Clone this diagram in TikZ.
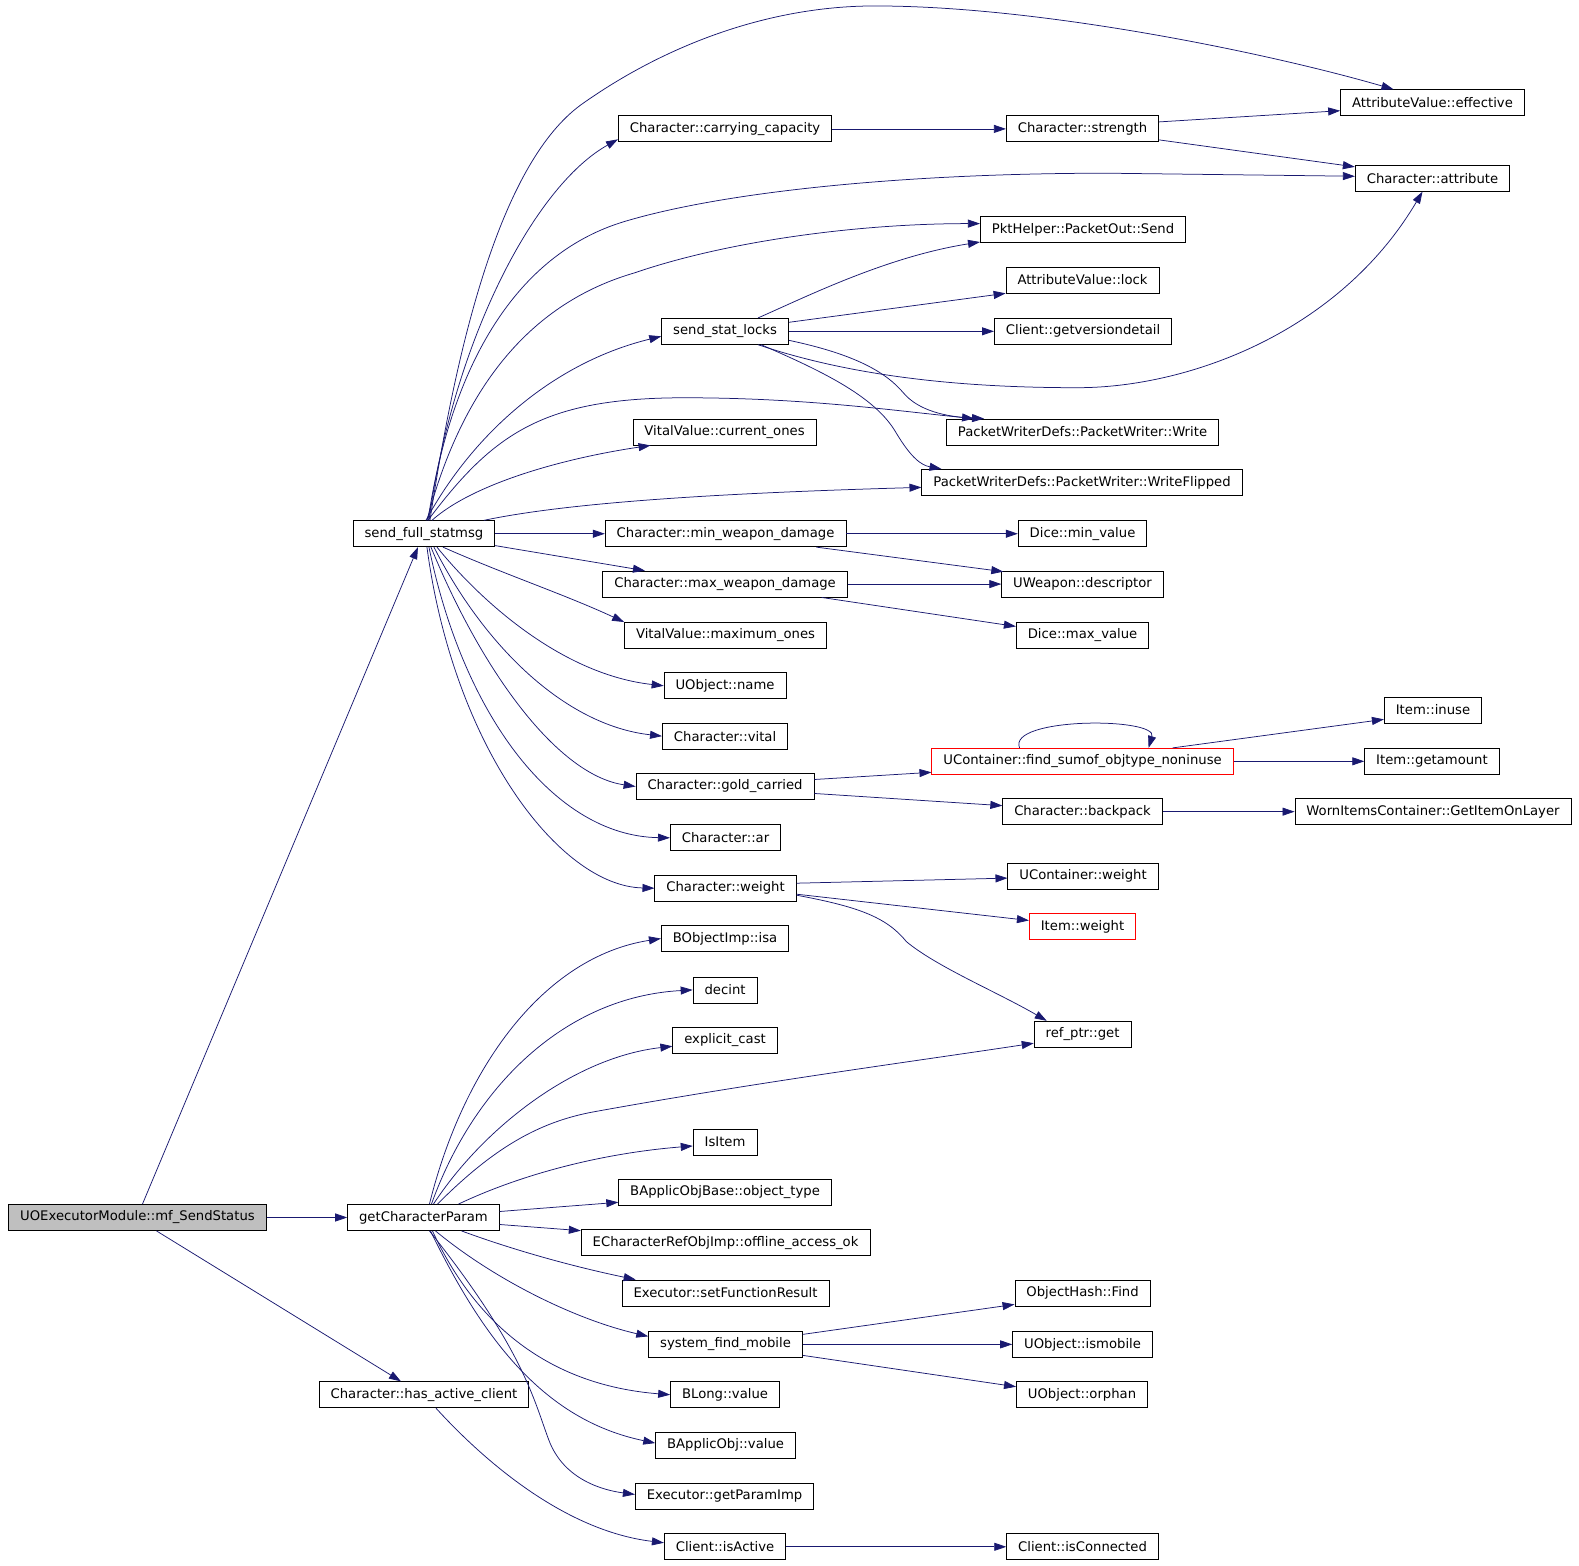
\documentclass[tikz,border=0pt]{standalone}
\usepackage{fontspec}
\setmainfont{DejaVu Sans}
\usepackage{xcolor}
\usepackage{tikz}
\usetikzlibrary{arrows.meta}
\definecolor{callblue}{RGB}{25,25,112}
\definecolor{rootgray}{RGB}{191,191,191}
\tikzset{
    fn_node/.style = {rectangle, draw=black, line width=0.8pt, fill=white, minimum height=26pt, inner xsep=11.5pt, inner ysep=0pt, font=\fontsize{13.2}{15}\selectfont},
    root_node/.style = {fn_node, fill=rootgray},
    trunc_node/.style = {fn_node, draw=red},
    call_edge/.style = {->, draw=callblue, line width=0.75pt}
}

\begin{document}
\begin{tikzpicture}
            [x=1.007pt, y=-1.007pt, >={Triangle[length=12pt,width=8pt]}]
            \useasboundingbox (0,0) rectangle (1568,1555);

            \node [root_node] (mf) at (136.5,1209) {UOExecutorModule::mf\_SendStatus};
            \node [fn_node] (sfs) at (421,530) {send\_full\_statmsg};
            \node [fn_node] (gcp) at (420.5,1209) {getCharacterParam};
            \node [fn_node] (hac) at (421,1385) {Character::has\_active\_client};

            \node [fn_node] (carry) at (720,128) {Character::carrying\_capacity};
            \node [fn_node] (ssl) at (720,329) {send\_stat\_locks};
            \node [fn_node] (curones) at (719.5,429) {VitalValue::current\_ones};
            \node [fn_node] (minwd) at (720.5,530) {Character::min\_weapon\_damage};
            \node [fn_node] (maxwd) at (720,580) {Character::max\_weapon\_damage};
            \node [fn_node] (maxones) at (720.5,631) {VitalValue::maximum\_ones};
            \node [fn_node] (oname) at (720,681) {UObject::name};
            \node [fn_node] (vital) at (720,731) {Character::vital};
            \node [fn_node] (gold) at (720,781) {Character::gold\_carried};
            \node [fn_node] (ar) at (720.5,832) {Character::ar};
            \node [fn_node] (weight) at (720.5,882) {Character::weight};
            \node [fn_node] (isa) at (720,932) {BObjectImp::isa};
            \node [fn_node] (decint) at (720,983) {decint};
            \node [fn_node] (ecast) at (720,1033) {explicit\_cast};
            \node [fn_node] (isitem) at (720,1134) {IsItem};
            \node [fn_node] (otype) at (720,1184) {BApplicObjBase::object\_type};
            \node [fn_node] (offline) at (720.5,1234) {ECharacterRefObjImp::offline\_access\_ok};
            \node [fn_node] (setres) at (720.5,1284) {Executor::setFunctionResult};
            \node [fn_node] (sfm) at (720.5,1335) {system\_find\_mobile};
            \node [fn_node] (blong) at (720,1385) {BLong::value};
            \node [fn_node] (bapp) at (720.5,1435) {BApplicObj::value};
            \node [fn_node] (gparam) at (719.5,1486) {Executor::getParamImp};
            \node [fn_node] (isactive) at (720,1536) {Client::isActive};

            \node [fn_node] (strength) at (1075,128) {Character::strength};
            \node [fn_node] (send) at (1075.5,228) {PktHelper::PacketOut::Send};
            \node [fn_node] (lock) at (1075,278) {AttributeValue::lock};
            \node [fn_node] (verdet) at (1075.5,329) {Client::getversiondetail};
            \node [fn_node] (write) at (1075,429) {PacketWriterDefs::PacketWriter::Write};
            \node [fn_node] (wflip) at (1074.5,479) {PacketWriterDefs::PacketWriter::WriteFlipped};
            \node [fn_node] (dmin) at (1075,530) {Dice::min\_value};
            \node [fn_node] (descr) at (1075,580) {UWeapon::descriptor};
            \node [fn_node] (dmax) at (1075,631) {Dice::max\_value};
            \node [trunc_node] (findsum) at (1075,756) {UContainer::find\_sumof\_objtype\_noninuse};
            \node [fn_node] (backpack) at (1075,806) {Character::backpack};
            \node [fn_node] (cweight) at (1075.5,870) {UContainer::weight};
            \node [trunc_node] (iweight) at (1075,920) {Item::weight};
            \node [fn_node] (refget) at (1075,1027) {ref\_ptr::get};
            \node [fn_node] (ohfind) at (1075,1284) {ObjectHash::Find};
            \node [fn_node] (ismobile) at (1075,1335) {UObject::ismobile};
            \node [fn_node] (orphan) at (1074.5,1385) {UObject::orphan};
            \node [fn_node] (isconn) at (1075,1536) {Client::isConnected};

            \node [fn_node] (effective) at (1422.5,102) {AttributeValue::effective};
            \node [fn_node] (attribute) at (1422.5,177) {Character::attribute};
            \node [fn_node] (inuse) at (1423,705) {Item::inuse};
            \node [fn_node] (getamount) at (1422,756) {Item::getamount};
            \node [fn_node] (getlayer) at (1423,806) {WornItemsContainer::GetItemOnLayer};

            % root
            \draw [call_edge] ([xshift=5pt]mf.north) -- ([xshift=-6pt]sfs.south);
            \draw [call_edge] (mf) -- (gcp);
            \draw [call_edge] ([xshift=19pt]mf.south) -- ([xshift=-23pt]hac.north);
            \draw [call_edge] ([xshift=12pt]hac.south) .. controls (480,1450) and (560,1520) .. ([yshift=4pt]isactive.west);

            % send_full_statmsg
            \draw [call_edge] ([xshift=6pt]sfs.north) .. controls (455,330) and (500,160) .. (577,104)
                .. controls (660,45) and (760,8) .. (860,6)
                .. controls (1020,4) and (1250,50) .. ([xshift=-39pt]effective.north);
            \draw [call_edge] ([xshift=5pt]sfs.north) .. controls (450,340) and (530,185) .. ([yshift=3pt]carry.south west);
            \draw [call_edge] ([xshift=4pt]sfs.north) .. controls (450,350) and (520,250) .. (620,220)
                .. controls (720,190) and (900,172) .. (1100,172) -- ([yshift=2pt]attribute.west);
            \draw [call_edge] ([xshift=3pt]sfs.north) .. controls (460,380) and (530,300) .. (630,271)
                .. controls (720,240) and (850,222) .. ([yshift=6pt]send.west);
            \draw [call_edge] ([xshift=2pt]sfs.north) .. controls (470,430) and (550,360) .. ([yshift=-5pt]ssl.west);
            \draw [call_edge] ([xshift=4pt]sfs.north) .. controls (490,430) and (540,395) .. (680,395)
                .. controls (800,395) and (890,408) .. ([xshift=28pt]write.north west);
            \draw [call_edge] ([xshift=8pt]sfs.north) .. controls (470,480) and (560,455) .. ([xshift=18pt]curones.south west);
            \draw [call_edge] ([xshift=60pt]sfs.north) .. controls (560,500) and (700,490) .. ([yshift=-5pt]wflip.west);
            \draw [call_edge] (sfs) -- (minwd);
            \draw [call_edge] (sfs) -- (maxwd);
            \draw [call_edge] ([xshift=19pt]sfs.south) .. controls (500,570) and (560,590) .. (maxones.north west);
            \draw [call_edge] ([xshift=13pt]sfs.south) .. controls (480,600) and (560,670) .. (oname.west);
            \draw [call_edge] ([xshift=10pt]sfs.south) .. controls (480,640) and (560,720) .. (vital.west);
            \draw [call_edge] ([xshift=7pt]sfs.south) .. controls (480,670) and (555,770) .. (gold.west);
            \draw [call_edge] ([xshift=5pt]sfs.south) .. controls (460,710) and (550,830) .. (ar.west);
            \draw [call_edge] ([xshift=3pt]sfs.south) .. controls (450,740) and (555,880) .. (weight.west);

            % getCharacterParam
            \draw [call_edge] ([xshift=6pt]gcp.north) .. controls (460,1060) and (540,950) .. (isa.west);
            \draw [call_edge] ([xshift=8pt]gcp.north) .. controls (470,1080) and (560,990) .. (decint.west);
            \draw [call_edge] ([xshift=10pt]gcp.north) .. controls (480,1120) and (570,1050) .. ([yshift=-6pt]ecast.west);
            \draw [call_edge] ([xshift=14pt]gcp.north) .. controls (490,1140) and (535,1114) .. (590,1104)
                .. controls (750,1075) and (900,1055) .. ([yshift=-9pt]refget.west);
            \draw [call_edge] ([xshift=35pt]gcp.north) .. controls (520,1165) and (600,1145) .. ([yshift=-4pt]isitem.west);
            \draw [call_edge] ([yshift=6pt]gcp.east) -- ([yshift=-10pt]otype.west);
            \draw [call_edge] ([yshift=-7pt]gcp.east) -- ([yshift=12pt]offline.west);
            \draw [call_edge] ([xshift=38pt]gcp.south) .. controls (520,1245) and (580,1260) .. ([xshift=14pt]setres.north west);
            \draw [call_edge] ([xshift=12pt]gcp.south) .. controls (490,1270) and (570,1310) .. ([yshift=8pt]sfm.west);
            \draw [call_edge] ([xshift=9pt]gcp.south) .. controls (470,1310) and (540,1375) .. (blong.west);
            \draw [call_edge] ([xshift=7pt]gcp.south) .. controls (480,1330) and (540,1410) .. ([yshift=2pt]bapp.west);
            \draw [call_edge] ([xshift=6pt]gcp.south) .. controls (520,1340) and (530,1390) .. (545,1430)
                .. controls (560,1470) and (600,1480) .. ([yshift=2pt]gparam.west);

            % second level
            \draw [call_edge] (carry) -- (strength);
            \draw [call_edge] ([yshift=7pt]strength.east) -- ([yshift=-8pt]effective.west);
            \draw [call_edge] ([yshift=-11pt]strength.east) -- ([yshift=-2pt]attribute.north west);
            \draw [call_edge] ([xshift=33pt]ssl.north) .. controls (800,295) and (880,255) .. ([yshift=1pt]send.south west);
            \draw [call_edge] ([yshift=9pt]ssl.east) -- (lock.south west);
            \draw [call_edge] (ssl) -- (verdet);
            \draw [call_edge] ([yshift=-9pt]ssl.east) .. controls (850,352) and (880,370) .. (897,390)
                .. controls (912,408) and (940,414) .. ([xshift=38pt]write.north west);
            \draw [call_edge] ([xshift=33pt]ssl.south) .. controls (850,375) and (960,385) .. (1070,385)
                .. controls (1180,385) and (1330,330) .. ([xshift=-10pt]attribute.south);
            \draw [call_edge] ([xshift=36pt]ssl.south) .. controls (820,370) and (870,395) .. (890,430)
                .. controls (905,455) and (915,462) .. ([xshift=20pt]wflip.north west);
            \draw [call_edge] (minwd) -- (dmin);
            \draw [call_edge] ([xshift=-30pt]minwd.south east) -- ([xshift=2pt,yshift=-1pt]descr.north west);
            \draw [call_edge] (maxwd) -- (descr);
            \draw [call_edge] ([xshift=-26pt]maxwd.south east) -- ([yshift=9pt]dmax.west);
            \draw [call_edge] ([yshift=7pt]gold.east) -- ([yshift=-11pt]findsum.west);
            \draw [call_edge] ([yshift=-7pt]gold.east) -- ([yshift=6pt]backpack.west);
            \draw [call_edge] ([xshift=-63pt]findsum.north) .. controls (1000,712) and (1150,712) .. ([xshift=66pt]findsum.north);
            \draw [call_edge] ([xshift=90pt]findsum.north) -- ([yshift=4pt]inuse.south west);
            \draw [call_edge] (findsum) -- (getamount);
            \draw [call_edge] (backpack) -- (getlayer);
            \draw [call_edge] ([yshift=5pt]weight.east) -- ([yshift=-2pt]cweight.west);
            \draw [call_edge] ([yshift=-6pt]weight.east) -- ([yshift=6pt]iweight.west);
            \draw [call_edge] ([yshift=-7pt]weight.east) .. controls (850,900) and (880,910) .. (900,935)
                .. controls (930,960) and (990,985) .. ([xshift=13pt]refget.north west);
            \draw [call_edge] ([yshift=10pt]sfm.east) -- ([yshift=2pt]ohfind.south west);
            \draw [call_edge] (sfm) -- (ismobile);
            \draw [call_edge] ([yshift=-11pt]sfm.east) -- ([yshift=8pt]orphan.west);
            \draw [call_edge] (isactive) -- (isconn);
\end{tikzpicture}
\end{document}
